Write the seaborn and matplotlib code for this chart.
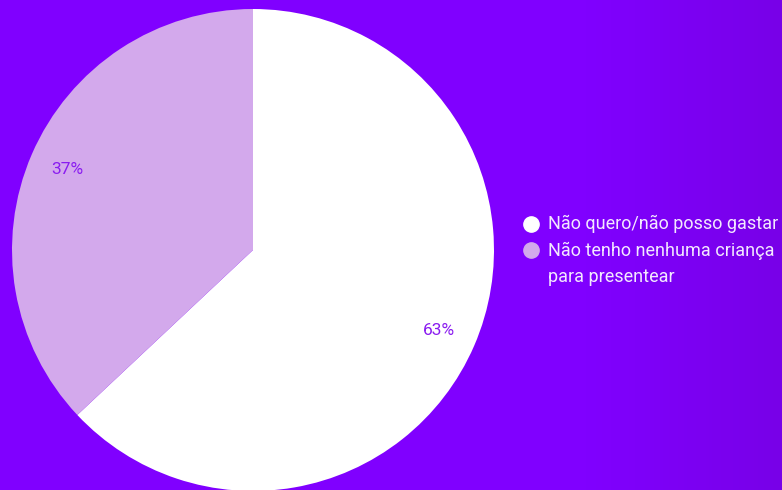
import numpy as np
import seaborn as sns
import matplotlib.pyplot as plt
from matplotlib.lines import Line2D
from matplotlib.colors import LinearSegmentedColormap

# data
categories = ['Não quero/não posso gastar', 'Não tenho nenhuma criança\npara presentear']
shares = [63, 37]
slice_colors = ['#ffffff', '#d3a9ec']

BG = '#8000ff'
W, H = 782, 490

sns.set_style('white')
plt.rcParams['font.family'] = ['Roboto', 'DejaVu Sans']

fig = plt.figure(figsize=(W / 100, H / 100), dpi=100)

# background with a slight darkening toward the right edge
bg_ax = fig.add_axes([0, 0, 1, 1])
bg_ax.set_axis_off()
grad = np.linspace(0, 1, 256)
grad = np.clip((grad - 0.75) / 0.25, 0, 1)[None, :]
cmap = LinearSegmentedColormap.from_list('bg', [BG, '#7800e8'])
bg_ax.imshow(grad, aspect='auto', cmap=cmap, extent=[0, 1, 0, 1])

ax = fig.add_axes([12 / W, -1 / H, 482 / W, 482 / H])
wedges, texts, autotexts = ax.pie(
    shares, colors=slice_colors, startangle=90, counterclock=False,
    autopct='%d%%', pctdistance=0.84,
    wedgeprops={'linewidth': 0},
    textprops={'color': '#8a1cf0', 'fontsize': 12.5},
)
ax.set_xlim(-1, 1)
ax.set_ylim(-1, 1)
ax.set_aspect('equal')
ax.set_axis_off()

# legend drawn by hand so the marker sits on the first line of a wrapped label
y_px = 224
for label, c in zip(categories, slice_colors):
    fig.add_artist(Line2D([531 / W], [1 - y_px / H], marker='o', linestyle='',
                          markersize=11, markerfacecolor=c, markeredgecolor=c,
                          transform=fig.transFigure))
    for line in label.split('\n'):
        fig.text(548 / W, 1 - y_px / H, line, color='#f3e8ff', fontsize=13,
                 va='center', ha='left')
        y_px += 26.5

fig.savefig('out.png', dpi=100, facecolor=BG)
